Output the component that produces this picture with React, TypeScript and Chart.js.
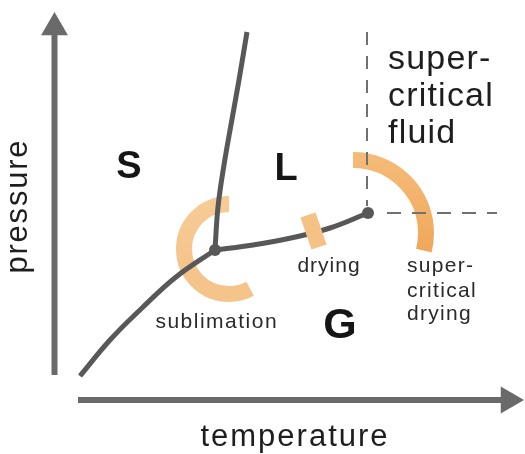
import React, { useEffect, useRef } from "react";
import { Chart, registerables } from "chart.js";

Chart.register(...registerables);

// ---- Schematic phase diagram data (temperature T, pressure P in arbitrary units) ----
const sublimationT = [16, 22, 28.4, 35.2, 43];
const sublimationP = [15.6, 22.8, 29.2, 35.4, 40.8];

const fusionT = [43, 43.6, 44.8, 46.3, 47.8, 49.4];
const fusionP = [40.8, 49.4, 57.8, 66.4, 74.8, 84.4];

const vaporT = [43, 50.6, 58.2, 66, 73.6];
const vaporP = [40.8, 41.8, 43.2, 45.2, 48.2];

const specialT = [43, 73.6]; // triple point, critical point
const specialP = [40.8, 48.2];

const critVertT = [73.4, 73.4];
const critVertP = [84.4, 49.6];
const critHorizT = [77.4, 99.4];
const critHorizP = [48.2, 48.2];

const dryingT = [61.6, 63.8];
const dryingP = [47.8, 41.4];

// axes arrows
const tempAxisT = [15.6, 103];
const tempAxisP = [10.8, 10.8];
const pressAxisT = [10.9, 10.9];
const pressAxisP = [15.8, 84];
const arrowHeadT = [101.7, 10.9];
const arrowHeadP = [10.8, 85.3];
const arrowHeadRot = [90, 0];

// process arcs: centre, radius, start / end angle (degrees, math convention)
const arcCenterT = [45.8, 70.6];
const arcCenterP = [41, 44.2];
const arcRadius = [9, 14.6];
const arcFrom = [90, 90];
const arcTo = [298, -14];

// text labels
const labelTexts = [
  "S", "L", "G",
  "sublimation", "drying",
  "super-", "critical", "drying",
  "super-", "critical", "fluid",
  "temperature", "pressure",
];
const labelT = [25.8, 57.2, 68, 43.2, 65.7, 81.4, 81.4, 81.4, 77.6, 77.6, 77.6, 58.8, 5.4];
const labelP = [55.2, 54.8, 23.2, 25.2, 36.4, 36.4, 31.4, 26.8, 77, 69.6, 62.2, 1.6, 49.4];

// ---- styles ----
const FONT = '"Liberation Sans", Arial, Helvetica, sans-serif';
const labelStyles = [
  { font: `bold 38px ${FONT}`, color: "#151515", align: "center", ls: 0, rot: 0 },
  { font: `bold 38px ${FONT}`, color: "#151515", align: "center", ls: 0, rot: 0 },
  { font: `bold 43px ${FONT}`, color: "#151515", align: "center", ls: 0, rot: 0 },
  { font: `21px ${FONT}`, color: "#2a2a2a", align: "center", ls: 1.5, rot: 0 },
  { font: `21px ${FONT}`, color: "#2a2a2a", align: "center", ls: 1, rot: 0 },
  { font: `21px ${FONT}`, color: "#2a2a2a", align: "left", ls: 1.3, rot: 0 },
  { font: `21px ${FONT}`, color: "#2a2a2a", align: "left", ls: 1.3, rot: 0 },
  { font: `21px ${FONT}`, color: "#2a2a2a", align: "left", ls: 1.3, rot: 0 },
  { font: `34px ${FONT}`, color: "#1e1e1e", align: "left", ls: 1.2, rot: 0 },
  { font: `34px ${FONT}`, color: "#1e1e1e", align: "left", ls: 1.2, rot: 0 },
  { font: `34px ${FONT}`, color: "#1e1e1e", align: "left", ls: 1.2, rot: 0 },
  { font: `31px ${FONT}`, color: "#1e1e1e", align: "center", ls: 2, rot: 0 },
  { font: `31px ${FONT}`, color: "#1e1e1e", align: "center", ls: 1.8, rot: -90 },
];
const arcColors = [
  ["#F7CB95", "#F5C48A"],
  ["#F5BA77", "#EEA658"],
];
const ARC_WIDTH = 16;

const pts = (xs: number[], ys: number[]) => xs.map((x, i) => ({ x, y: ys[i] }));

const arcsPlugin = {
  id: "processArcs",
  beforeDatasetsDraw(chart: any) {
    const { ctx, scales } = chart;
    const xs = scales.x, ys = scales.y;
    ctx.save();
    for (let i = 0; i < arcCenterT.length; i++) {
      const cx = xs.getPixelForValue(arcCenterT[i]);
      const cy = ys.getPixelForValue(arcCenterP[i]);
      const r = xs.getPixelForValue(arcCenterT[i] + arcRadius[i]) - cx;
      const g = ctx.createLinearGradient(0, cy - r, 0, cy + r * 0.4);
      g.addColorStop(0, arcColors[i][0]);
      g.addColorStop(1, arcColors[i][1]);
      ctx.beginPath();
      ctx.arc(cx, cy, r, (-arcFrom[i] * Math.PI) / 180, (-arcTo[i] * Math.PI) / 180, arcTo[i] > arcFrom[i]);
      ctx.lineWidth = ARC_WIDTH;
      ctx.lineCap = "butt";
      ctx.strokeStyle = g;
      ctx.stroke();
    }
    ctx.restore();
  },
};

const labelsPlugin = {
  id: "phaseLabels",
  afterDatasetsDraw(chart: any) {
    const { ctx, scales } = chart;
    ctx.save();
    for (let i = 0; i < labelTexts.length; i++) {
      const st = labelStyles[i];
      const px = scales.x.getPixelForValue(labelT[i]);
      const py = scales.y.getPixelForValue(labelP[i]);
      ctx.save();
      ctx.translate(px, py);
      if (st.rot) ctx.rotate((st.rot * Math.PI) / 180);
      ctx.font = st.font;
      (ctx as any).letterSpacing = `${st.ls}px`;
      ctx.fillStyle = st.color;
      ctx.textBaseline = "alphabetic";
      ctx.textAlign = st.align as CanvasTextAlign;
      let dx = 0;
      if (st.align === "center" && st.ls) dx = st.ls / 2;
      ctx.fillText(labelTexts[i], dx, 0);
      ctx.restore();
    }
    ctx.restore();
  },
};

export default function App() {
  const ref = useRef<HTMLCanvasElement>(null);
  useEffect(() => {
    if (!ref.current) return;
    const LINE = "#585858";
    const AXIS = "#6a6a6a";
    const chart = new Chart(ref.current, {
      type: "scatter",
      data: {
        datasets: [
          {
            label: "critical/triple points",
            data: pts(specialT, specialP),
            showLine: false,
            pointRadius: 6,
            pointBorderWidth: 0,
            backgroundColor: LINE,
            order: 1,
          },
          {
            label: "drying",
            data: pts(dryingT, dryingP),
            showLine: true,
            borderColor: "#F4C285",
            borderWidth: 16,
            borderCapStyle: "butt",
            pointRadius: 0,
            order: 2,
          },
          {
            label: "critical temperature",
            data: pts(critVertT, critVertP),
            showLine: true,
            borderColor: "#707070",
            borderWidth: 2,
            borderDash: [13, 11],
            pointRadius: 0,
            order: 3,
          },
          {
            label: "critical pressure",
            data: pts(critHorizT, critHorizP),
            showLine: true,
            borderColor: "#707070",
            borderWidth: 2,
            borderDash: [14, 11],
            pointRadius: 0,
            order: 3,
          },
          {
            label: "sublimation",
            data: pts(sublimationT, sublimationP),
            showLine: true,
            borderColor: LINE,
            borderWidth: 5,
            tension: 0.4,
            pointRadius: 0,
            order: 4,
          },
          {
            label: "fusion",
            data: pts(fusionT, fusionP),
            showLine: true,
            borderColor: LINE,
            borderWidth: 5,
            tension: 0.4,
            pointRadius: 0,
            order: 4,
          },
          {
            label: "vaporization",
            data: pts(vaporT, vaporP),
            showLine: true,
            borderColor: LINE,
            borderWidth: 5,
            tension: 0.4,
            pointRadius: 0,
            order: 4,
          },
          {
            label: "temperature axis",
            data: pts(tempAxisT, tempAxisP),
            showLine: true,
            borderColor: AXIS,
            borderWidth: 6,
            borderCapStyle: "butt",
            pointRadius: 0,
            order: 5,
          },
          {
            label: "pressure axis",
            data: pts(pressAxisT, pressAxisP),
            showLine: true,
            borderColor: AXIS,
            borderWidth: 6,
            borderCapStyle: "butt",
            pointRadius: 0,
            order: 5,
          },
          {
            label: "arrow heads",
            data: pts(arrowHeadT, arrowHeadP),
            showLine: false,
            pointStyle: "triangle",
            pointRadius: 15.5,
            pointBorderWidth: 0,
            pointRotation: arrowHeadRot,
            backgroundColor: AXIS,
            order: 4,
          },
        ] as any,
      },
      options: {
        animation: false,
        responsive: false,
        devicePixelRatio: 1,
        events: [],
        layout: { padding: 0, autoPadding: false },
        plugins: { legend: { display: false }, tooltip: { enabled: false } },
        elements: { line: { borderJoinStyle: "round" } },
        datasets: { scatter: { clip: false } } as any,
        scales: {
          x: { type: "linear", min: 0, max: 105, display: false },
          y: { type: "linear", min: 0, max: 90.8, display: false },
        },
      },
      plugins: [arcsPlugin, labelsPlugin],
    });
    return () => chart.destroy();
  }, []);
  return (
    <div style={{ position: "absolute", left: 0, top: 0, width: 525, height: 454, background: "#fff" }}>
      <canvas ref={ref} width={525} height={454} style={{ display: "block" }} />
    </div>
  );
}
